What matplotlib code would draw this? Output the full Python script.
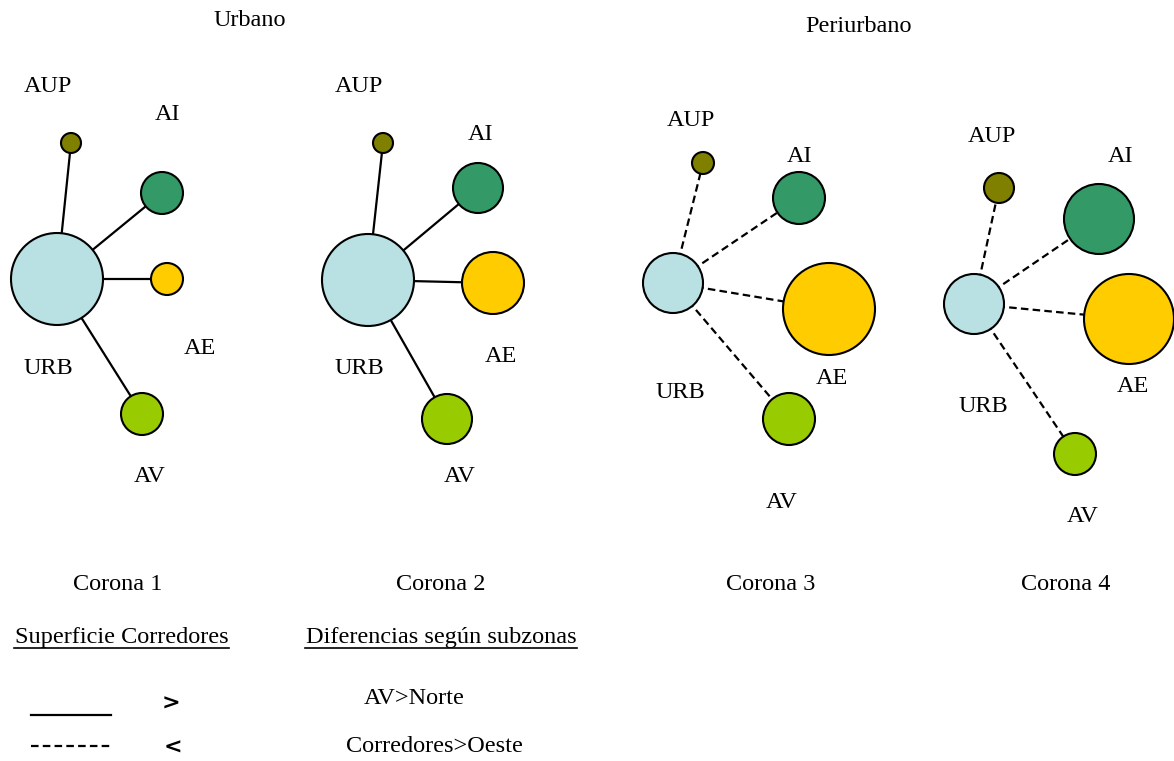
import matplotlib.pyplot as plt
from matplotlib.patches import Circle

plt.rcParams['font.family'] = ['Liberation Serif', 'DejaVu Serif']

# datos: tamaño relativo (radio) de cada zona por corona
zonas = ['URB', 'AUP', 'AI', 'AE', 'AV']
colores = ['#b9e0e3', '#7f7f00', '#339966', '#ffcc00', '#99cc00']
coronas = ['Corona 1', 'Corona 2', 'Corona 3', 'Corona 4']
radio_c1 = [46, 10, 21, 16, 21]
radio_c2 = [46, 10, 25, 31, 25]
radio_c3 = [30, 11, 26, 46, 26]
radio_c4 = [30, 15, 35, 45, 21]
corredor = ['-', '-', '--', '--']   # solido: mayor superficie, discontinuo: menor
grupos = ['Urbano', 'Periurbano']

# layout (pixeles)
centros = [
    [(57, 279), (71, 143), (162, 193), (167, 279), (142, 414)],
    [(368, 280), (383, 143), (478, 188), (493, 283), (447, 419)],
    [(673, 283), (703, 163), (799, 198), (829, 309), (789, 419)],
    [(974, 304), (999, 188), (1099, 219), (1129, 319), (1075, 454)],
]
etiquetas = [
    [(48, 369), (48, 87), (168, 115), (200, 348), (150, 477)],
    [(359, 369), (359, 87), (481, 135), (501, 356), (460, 477)],
    [(680, 393), (691, 121), (800, 157), (832, 379), (782, 502)],
    [(983, 407), (992, 137), (1121, 157), (1133, 387), (1083, 517)],
]
pos_corona = [118, 441, 771, 1066]
radios = [radio_c1, radio_c2, radio_c3, radio_c4]

fig = plt.figure(figsize=(11.74, 7.61), dpi=100)
ax = fig.add_axes([0, 0, 1, 1])
ax.set_xlim(0, 1174)
ax.set_ylim(761, 0)
ax.axis('off')

fs = 17.5
guion = (3.4, 1.9)
for k in range(4):
    c = centros[k]
    r = radios[k]
    for i in range(1, 5):
        if corredor[k] == '-':
            ax.plot([c[0][0], c[i][0]], [c[0][1], c[i][1]], '-', color='black', lw=1.6, zorder=1)
        else:
            ax.plot([c[0][0], c[i][0]], [c[0][1], c[i][1]], color='black', lw=1.6,
                    dashes=guion, zorder=1)
    for i in range(5):
        ax.add_patch(Circle(c[i], r[i], facecolor=colores[i], edgecolor='black', lw=1.5, zorder=2))
        ax.text(etiquetas[k][i][0], etiquetas[k][i][1], zonas[i], fontsize=fs,
                ha='center', va='center')
    ax.text(pos_corona[k], 585, coronas[k], fontsize=fs, ha='center', va='center')

ax.text(250, 20, grupos[0], fontsize=fs, ha='center', va='center')
ax.text(859, 27, grupos[1], fontsize=fs, ha='center', va='center')

# leyenda
ax.text(122, 637, 'Superficie Corredores', fontsize=fs, ha='center', va='center')
ax.plot([14, 229], [648, 648], color='black', lw=1.2)
ax.text(441, 637, 'Diferencias según subzonas', fontsize=fs, ha='center', va='center')
ax.plot([305, 577], [648, 648], color='black', lw=1.2)

ax.plot([31, 111], [715, 715], '-', color='black', lw=1.6)
ax.plot([31, 111], [746, 746], color='black', lw=1.6, dashes=guion)
ax.text(171, 704, '>', fontsize=16, ha='center', va='center', fontweight='bold',
        family=['DejaVu Sans'])
ax.text(173, 748, '<', fontsize=16, ha='center', va='center', fontweight='bold',
        family=['DejaVu Sans'])
ax.text(414, 698, 'AV>Norte', fontsize=fs, ha='center', va='center')
ax.text(434, 747, 'Corredores>Oeste', fontsize=fs, ha='center', va='center')

fig.savefig('out.png', dpi=100)
